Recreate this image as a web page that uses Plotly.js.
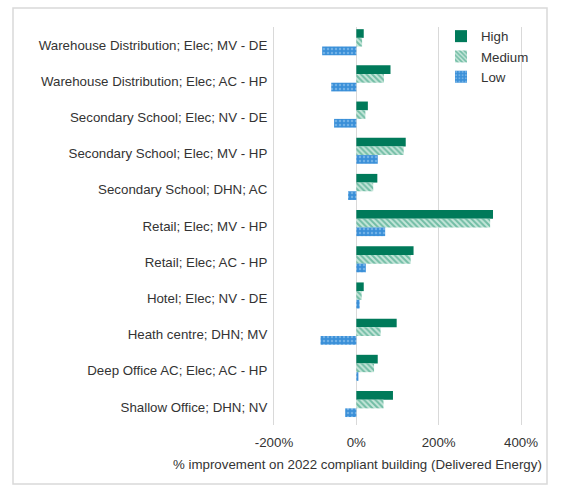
<!DOCTYPE html>
<html>
<head>
<meta charset="utf-8">
<script src="https://cdn.plot.ly/plotly-3.0.1.min.js"></script>
<style>
html,body{margin:0;padding:0;background:#fff;}
#chart{width:563px;height:492px;}
</style>
</head>
<body>
<div id="chart"></div>
<script>
var categories = [
  "Warehouse Distribution; Elec; MV - DE",
  "Warehouse Distribution; Elec; AC - HP",
  "Secondary School; Elec; NV - DE",
  "Secondary School; Elec; MV - HP",
  "Secondary School; DHN; AC",
  "Retail; Elec; MV - HP",
  "Retail; Elec; AC - HP",
  "Hotel; Elec; NV - DE",
  "Heath centre; DHN; MV",
  "Deep Office AC; Elec; AC - HP",
  "Shallow Office; DHN; NV"
];
var highValues   = [18, 83, 28, 120, 51, 332, 139, 18, 98, 52, 89];
var mediumValues = [14, 67, 22, 115, 41, 325, 132, 13, 59, 43, 66];
var lowValues    = [-83, -61, -54, 52, -20, 70, 23, 8, -87, 5, -27];
var xTickVals = [-200, 0, 200, 400];
var xTickText = ["-200%", "0%", "200%", "400%"];

var W = 563, H = 492;
var plotL = 274, plotR = 521, plotT = 27, plotB = 425;
function px2x(p){ return (p - plotL) / (plotR - plotL); }
function py2y(p){ return (plotB - p) / (plotB - plotT); }

var font = {family: "Liberation Sans, Arial, sans-serif", size: 13.3, color: "#333333"};
var barW = 0.24;

var traces = [
  {
    type: "bar", orientation: "h", name: "High",
    y: categories, x: highValues,
    width: barW, offset: -0.44,
    marker: {color: "#007a5a", line: {width: 0}}
  },
  {
    type: "bar", orientation: "h", name: "Medium",
    y: categories, x: mediumValues,
    width: barW, offset: -0.20,
    marker: {color: "#2a9d78", line: {width: 0},
      pattern: {shape: "\\", fillmode: "overlay", bgcolor: "#c5e6da", fgcolor: "#1f9470", size: 4, solidity: 0.5}}
  },
  {
    type: "bar", orientation: "h", name: "Low",
    y: categories, x: lowValues,
    width: barW, offset: 0.04,
    marker: {color: "#3a8fd8", line: {width: 0},
      pattern: {shape: ".", fillmode: "overlay", bgcolor: "#3a8fd8", fgcolor: "#a8d2f3", size: 4, solidity: 0.3}}
  }
];

var layout = {
  width: W, height: H,
  margin: {l: plotL, r: W - plotR, t: plotT, b: H - plotB, pad: 0},
  paper_bgcolor: "#ffffff", plot_bgcolor: "#ffffff",
  font: font,
  showlegend: true,
  barmode: "group",
  xaxis: {
    range: [-200, 400],
    tickvals: xTickVals, ticktext: xTickText,
    showgrid: true, gridcolor: "#d9d9d9", gridwidth: 1,
    zeroline: true, zerolinecolor: "#d9d9d9", zerolinewidth: 1,
    showline: false, ticks: "", ticklen: 0,
    tickfont: font, fixedrange: true,
    ticklabelstandoff: 8
  },
  yaxis: {
    type: "category", autorange: "reversed",
    showgrid: false, zeroline: false,
    showline: true, mirror: true, linecolor: "#d9d9d9", linewidth: 1,
    ticks: "", tickfont: font, automargin: false,
    ticklabelstandoff: 3
  },
  legend: {
    x: px2x(441), y: py2y(21), xanchor: "left", yanchor: "top",
    bgcolor: "rgba(0,0,0,0)", borderwidth: 0,
    font: font, itemwidth: 30, traceorder: "normal"
  },
  annotations: [{
    text: "% improvement on 2022 compliant building (Delivered Energy)",
    xref: "paper", yref: "paper",
    x: px2x(357), y: py2y(464), xanchor: "center", yanchor: "middle",
    showarrow: false, font: font
  }],
  shapes: [{
    type: "rect", xref: "paper", yref: "paper",
    x0: px2x(13), x1: px2x(547), y0: py2y(484), y1: py2y(8),
    line: {color: "#d9d9d9", width: 1.5}, fillcolor: "rgba(0,0,0,0)", layer: "below"
  }]
};

Plotly.newPlot("chart", traces, layout, {displayModeBar: false, staticPlot: true});
</script>
</body>
</html>
